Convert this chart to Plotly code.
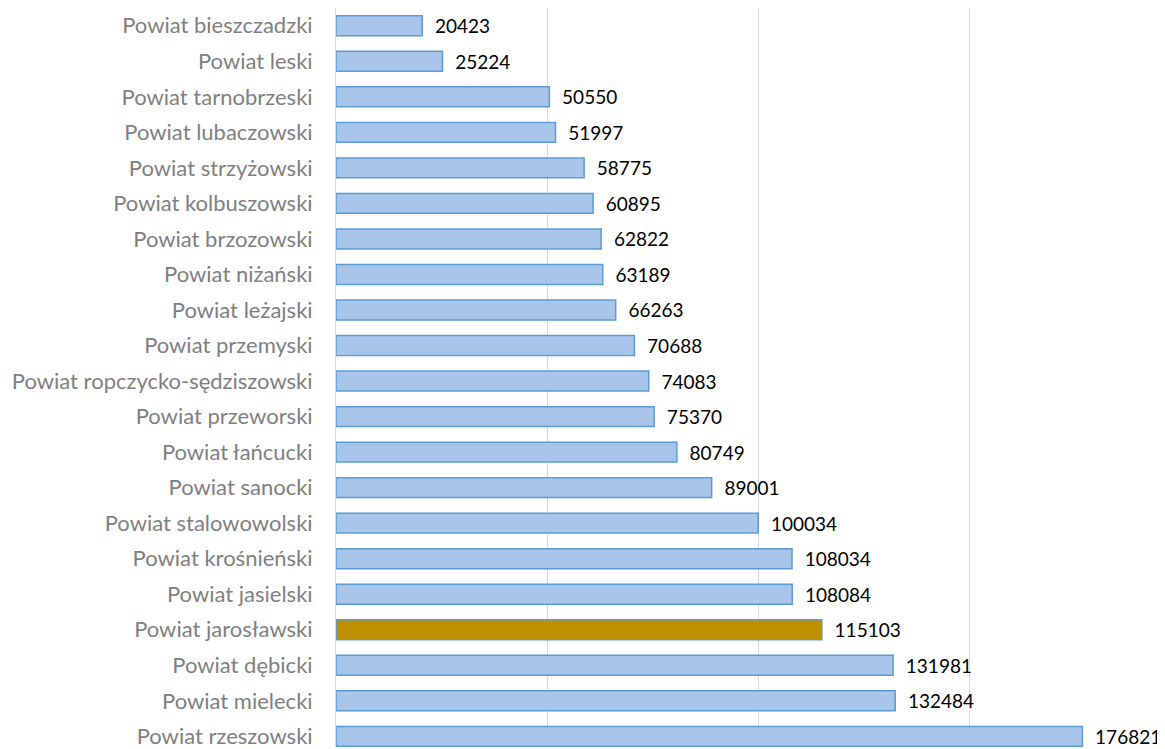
import plotly.graph_objects as go

# powiaty woj. podkarpackiego, od najmniejszego
powiaty = [
    "Powiat bieszczadzki", "Powiat leski", "Powiat tarnobrzeski", "Powiat lubaczowski",
    "Powiat strzyżowski", "Powiat kolbuszowski", "Powiat brzozowski", "Powiat niżański",
    "Powiat leżajski", "Powiat przemyski", "Powiat ropczycko-sędziszowski",
    "Powiat przeworski", "Powiat łańcucki", "Powiat sanocki", "Powiat stalowowolski",
    "Powiat krośnieński", "Powiat jasielski", "Powiat jarosławski", "Powiat dębicki",
    "Powiat mielecki", "Powiat rzeszowski",
]
ludnosc = [
    20423, 25224, 50550, 51997, 58775, 60895, 62822, 63189, 66263, 70688, 74083,
    75370, 80749, 89001, 100034, 108034, 108084, 115103, 131981, 132484, 176821,
]
wyrozniony = "Powiat jarosławski"

kolory = ["#BF9000" if p == wyrozniony else "#A9C5EA" for p in powiaty]

fig = go.Figure(go.Bar(
    x=ludnosc,
    y=powiaty,
    orientation="h",
    marker=dict(color=kolory, line=dict(color="#5B9BD5", width=1.5)),
    text=["  " + str(v) for v in ludnosc],
    textposition="outside",
    constraintext="none",
    textfont=dict(family="Lato", size=19, color="#000000"),
    cliponaxis=False,
    width=0.56,
))

# strona ma domyślny margines 8 px, stąd l=328 i t=0
fig.update_layout(
    width=1157, height=741,
    margin=dict(l=328, r=0, t=0, b=0),
    plot_bgcolor="white",
    paper_bgcolor="white",
    showlegend=False,
    font=dict(family="Lato", size=22, color="#7F7F7F"),
)
fig.update_xaxes(
    range=[0, 196400],
    tickvals=[0, 50000, 100000, 150000],
    showticklabels=False,
    showgrid=True, gridcolor="#D9D9D9", gridwidth=1,
    zeroline=False,
)
fig.update_yaxes(
    range=[20.3, -0.5],
    ticks="outside", ticklen=18, tickcolor="rgba(0,0,0,0)",
    showgrid=False,
    showline=True, linecolor="#D9D9D9", linewidth=1,
    tickfont=dict(family="Lato", size=22, color="#7F7F7F"),
)

fig.write_html("out.html")
